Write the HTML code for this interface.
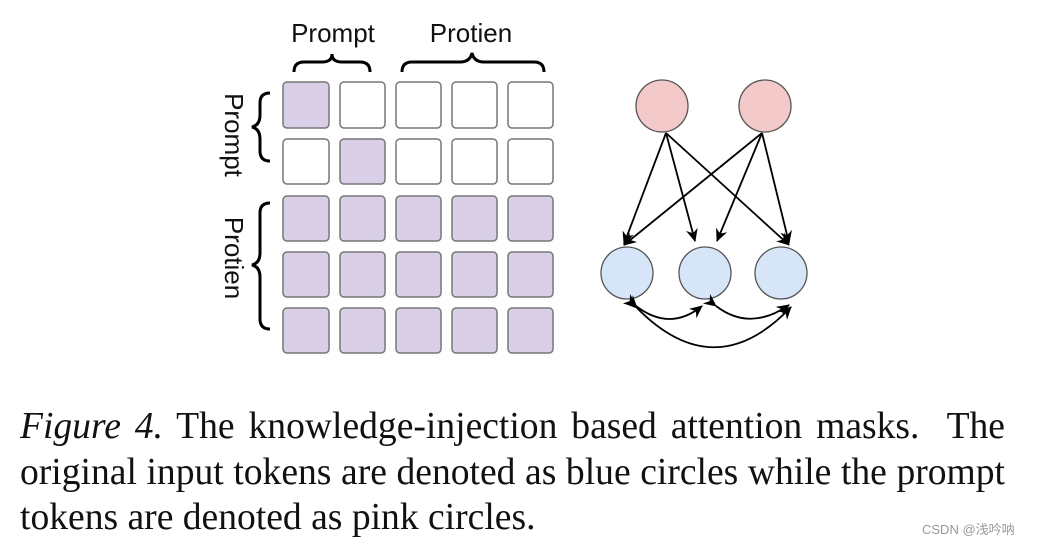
<!DOCTYPE html>
<html><head><meta charset="utf-8"><style>
body{margin:0;width:1051px;height:547px;background:#fff;position:relative;overflow:hidden}
.cap{position:absolute;left:20px;width:985px;font-family:"Liberation Serif",serif;font-size:37.6px;color:#111;white-space:nowrap;text-align:justify;text-align-last:justify}
</style></head><body>
<svg width="1051" height="380" style="position:absolute;left:0;top:0" font-family="Liberation Sans, sans-serif">
<defs><marker id="a" markerWidth="14" markerHeight="14" refX="12" refY="7" orient="auto" markerUnits="userSpaceOnUse"><path d="M0,1 L13,7 L0,13 L4,7z" fill="#000"/></marker></defs>
<text x="333" y="42" font-size="26" text-anchor="middle" fill="#111">Prompt</text>
<text x="471" y="42" font-size="26" text-anchor="middle" fill="#111">Protien</text>
<path d="M294,72 q0,-10 10,-10 h18 q10,0 10,-8 q0,8 10,8 h18 q10,0 10,10" fill="none" stroke="#000" stroke-width="3"/>
<path d="M402,72 q0,-10 10,-10 h48 q10,0 12,-9 q2,9 12,9 h50 q10,0 10,10" fill="none" stroke="#000" stroke-width="3"/>
<g transform="translate(225,135) rotate(90)"><text x="0" y="0" font-size="26" text-anchor="middle" fill="#111">Prompt</text></g>
<g transform="translate(225,258) rotate(90)"><text x="0" y="0" font-size="26" text-anchor="middle" fill="#111">Protien</text></g>
<path d="M270,93 q-10,0 -10,10 v12 q0,10 -8,12 q8,2 8,12 v12 q0,10 10,10" fill="none" stroke="#000" stroke-width="3"/>
<path d="M270,203 q-10,0 -10,10 v40 q0,10 -8,12 q8,2 8,12 v42 q0,10 10,10" fill="none" stroke="#000" stroke-width="3"/>
<g stroke="#777" stroke-width="1.5">
<rect x="283" y="82" width="46" height="46" rx="4" fill="#d9d0e8"/>
<rect x="340" y="82" width="45" height="46" rx="4" fill="#fff"/>
<rect x="396" y="82" width="45" height="46" rx="4" fill="#fff"/>
<rect x="452" y="82" width="45" height="46" rx="4" fill="#fff"/>
<rect x="508" y="82" width="45" height="46" rx="4" fill="#fff"/>
<rect x="283" y="139" width="46" height="45" rx="4" fill="#fff"/>
<rect x="340" y="139" width="45" height="45" rx="4" fill="#d9d0e8"/>
<rect x="396" y="139" width="45" height="45" rx="4" fill="#fff"/>
<rect x="452" y="139" width="45" height="45" rx="4" fill="#fff"/>
<rect x="508" y="139" width="45" height="45" rx="4" fill="#fff"/>
</g>
<g stroke="#777" stroke-width="1.5" fill="#d9d0e8">
<rect x="283" y="196" width="46" height="45" rx="4"/><rect x="340" y="196" width="45" height="45" rx="4"/><rect x="396" y="196" width="45" height="45" rx="4"/><rect x="452" y="196" width="45" height="45" rx="4"/><rect x="508" y="196" width="45" height="45" rx="4"/>
<rect x="283" y="252" width="46" height="45" rx="4"/><rect x="340" y="252" width="45" height="45" rx="4"/><rect x="396" y="252" width="45" height="45" rx="4"/><rect x="452" y="252" width="45" height="45" rx="4"/><rect x="508" y="252" width="45" height="45" rx="4"/>
<rect x="283" y="308" width="46" height="45" rx="4"/><rect x="340" y="308" width="45" height="45" rx="4"/><rect x="396" y="308" width="45" height="45" rx="4"/><rect x="452" y="308" width="45" height="45" rx="4"/><rect x="508" y="308" width="45" height="45" rx="4"/>
</g>
<g stroke="#555" stroke-width="1.3">
<circle cx="662" cy="106" r="26" fill="#f3c9c9"/><circle cx="765" cy="106" r="26" fill="#f3c9c9"/>
<circle cx="627" cy="273" r="26" fill="#d6e6f8"/><circle cx="705" cy="273" r="26" fill="#d6e6f8"/><circle cx="781" cy="273" r="26" fill="#d6e6f8"/>
</g>
<g stroke="#000" stroke-width="1.8" fill="none" marker-end="url(#a)">
<line x1="666" y1="133" x2="624" y2="244"/><line x1="666" y1="133" x2="695" y2="241"/><line x1="666" y1="133" x2="789" y2="245"/>
<line x1="762" y1="133" x2="624" y2="245"/><line x1="762" y1="133" x2="717" y2="241"/><line x1="762" y1="133" x2="789" y2="243"/>
</g>
<g stroke="#000" stroke-width="1.8" fill="none" marker-start="url(#a)" marker-end="url(#a)">
<path d="M636,306 Q670,332 702,306"/>
<path d="M716,306 Q750,332 789,305"/>
<path d="M637,308 Q715,387 791,307"/>
</g>
</svg>
<div class="cap" style="top:405px"><i>Figure 4.</i> The knowledge-injection based attention masks.&nbsp; The</div>
<div class="cap" style="top:451px">original input tokens are denoted as blue circles while the prompt</div>
<div class="cap" style="top:496px;text-align:left;text-align-last:left">tokens are denoted as pink circles.</div>
<div style="position:absolute;left:922px;top:519px;font-family:'Liberation Sans','Noto Sans CJK SC',sans-serif;font-size:13px;color:#999">CSDN @浅吟呐</div>
</body></html>
